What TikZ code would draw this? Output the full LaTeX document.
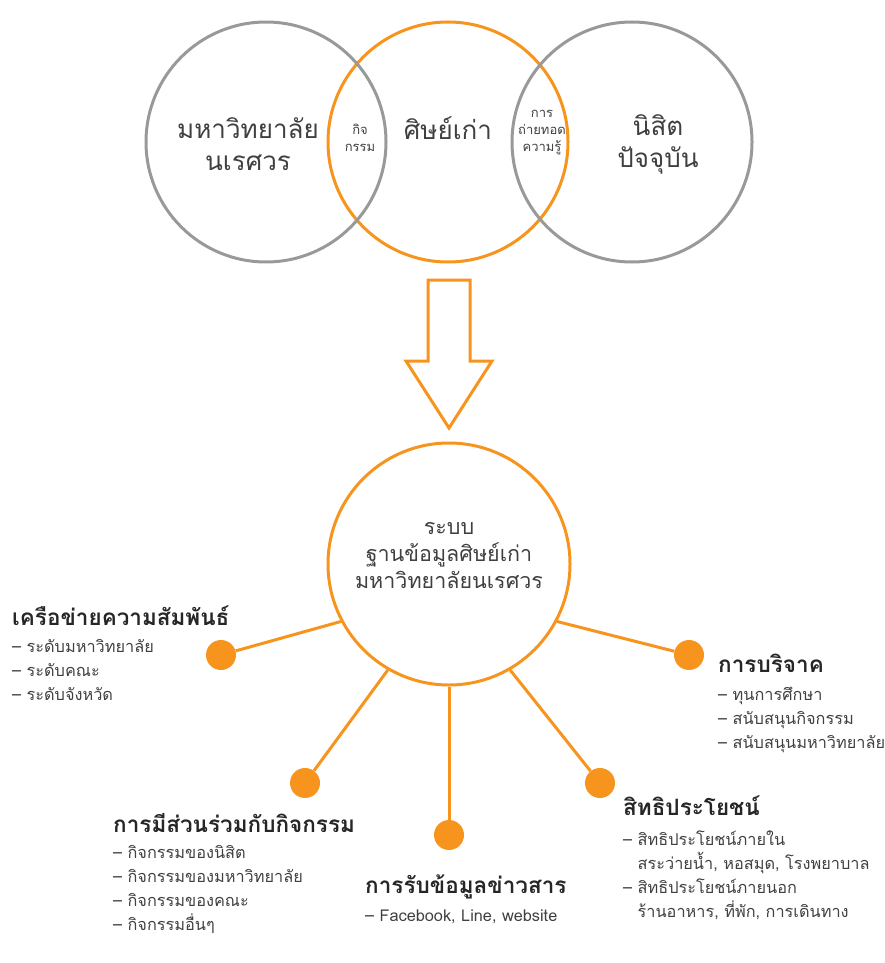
\documentclass[tikz,border=0pt]{standalone}
\usepackage{fontspec}
\newfontfamily\thaifont[Script=Thai]{Loma}
\usetikzlibrary{positioning}
\definecolor{ringorange}{RGB}{247,148,30}
\definecolor{ringgray}{RGB}{153,153,153}
\definecolor{txtgray}{RGB}{64,64,64}
\definecolor{headgray}{RGB}{38,38,38}

\begin{document}
\begin{tikzpicture}[
  x=1pt, y=-1pt,
  ring/.style={                             % venn circle: grey outline
    draw=ringgray, line width=3pt,
    circle, minimum size=240pt, inner sep=0pt
  },
  oring/.style={ring, draw=ringorange},     % venn circle: orange outline
  bigtxt/.style={
    font=\thaifont\fontsize{26}{32}\selectfont, text=txtgray, align=center
  },
  smalltxt/.style={
    font=\thaifont\fontsize{13}{17}\selectfont, text=txtgray, align=center
  },
  hubtxt/.style={
    font=\thaifont\fontsize{21.5}{27}\selectfont, text=txtgray, align=center
  },
  dot/.style={fill=ringorange, circle, minimum size=30pt, inner sep=0pt},
  spoke/.style={draw=ringorange, line width=3pt},
  head/.style={
    font=\thaifont\bfseries\fontsize{22.5}{26}\selectfont, text=headgray,
    anchor=base west, inner sep=0pt
  },
  items/.style={                            % base = baseline of the last line
    font=\thaifont\fontsize{16.3}{24}\selectfont, text=txtgray,
    align=left, anchor=base west, inner sep=0pt
  },
]
\useasboundingbox (0,0) rectangle (885,963);

% ---- Venn circles ----
\node (alum) at (448,142) [oring] {};
\node (univ) at (266,142) [ring]  {};
\node (stud) at (632,142) [ring]  {};

\node (univtxt) at (248,144) [bigtxt]   {มหาวิทยาลัย\\นเรศวร};
\node (alumtxt) at (448,128) [bigtxt]   {ศิษย์เก่า};
\node (studtxt) at (658,144) [bigtxt]   {นิสิต\\ปัจจุบัน};
\node (acttxt)  at (360,138) [smalltxt] {กิจ\\กรรม};
\node (knowtxt) at (542,133) [smalltxt] {การ\\ถ่ายทอด\\ความรู้};

% ---- Hollow arrow ----
\draw[spoke, line join=miter] (428,280) -- (470,280) -- (470,361) -- (492,361)
  -- (449,428) -- (406,361) -- (428,361) -- cycle;

% ---- Hub ----
\node (hub) at (449,564) [oring, minimum size=242pt] {};
\node (hubtext) at (449,556) [hubtxt]
  {ระบบ\\ฐานข้อมูลศิษย์เก่า\\มหาวิทยาลัยนเรศวร};

% ---- Dots ----
\node (dotL)  at (221,655) [dot] {};
\node (dotBL) at (305,783) [dot] {};
\node (dotB)  at (449,835) [dot] {};
\node (dotBR) at (600,783) [dot] {};
\node (dotR)  at (689,655) [dot] {};

% ---- Spokes ----
\foreach \a/\d in {208/dotL, 240/dotBL, 270/dotB, 300/dotBR, 332/dotR}
  \draw[spoke] (hub.\a) -- (\d);

% ---- Labels ----
\node (headL)  at (12,625)  [head]  {เครือข่ายความสัมพันธ์};
\node (itemsL) at (12,700)  [items] {– ระดับมหาวิทยาลัย\\– ระดับคณะ\\– ระดับจังหวัด};

\node (headR)  at (718,672) [head]  {การบริจาค};
\node (itemsR) at (718,748) [items] {– ทุนการศึกษา\\– สนับสนุนกิจกรรม\\– สนับสนุนมหาวิทยาลัย};

\node (headBL)  at (113,832) [head]  {การมีส่วนร่วมกับกิจกรรม};
\node (itemsBL) at (113,930) [items]
  {– กิจกรรมของนิสิต\\– กิจกรรมของมหาวิทยาลัย\\– กิจกรรมของคณะ\\– กิจกรรมอื่นๆ};

\node (headB)  at (365,893) [head]  {การรับข้อมูลข่าวสาร};
\node (itemsB) at (365,921) [items] {– Facebook, Line, website};

\node (headBR)  at (623,815) [head]  {สิทธิประโยชน์};
\node (itemsBR) at (623,917) [items]
  {– สิทธิประโยชน์ภายใน\\\phantom{– }สระว่ายน้ำ, หอสมุด, โรงพยาบาล\\– สิทธิประโยชน์ภายนอก\\\phantom{– }ร้านอาหาร, ที่พัก, การเดินทาง};

\end{tikzpicture}
\end{document}
